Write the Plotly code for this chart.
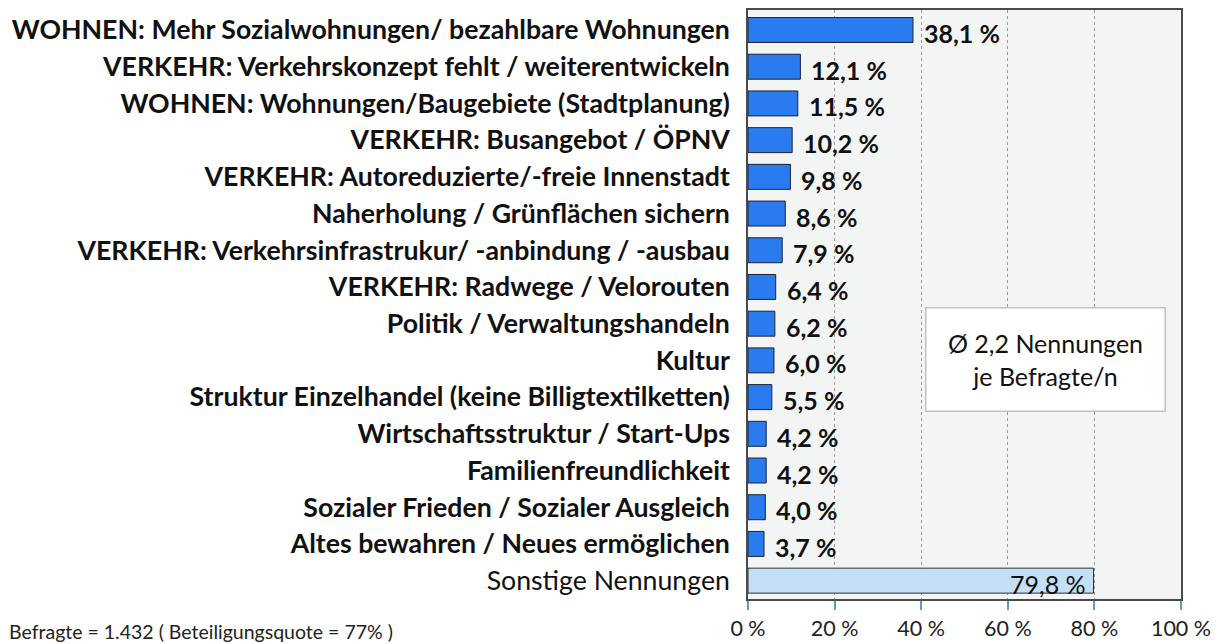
import plotly.graph_objects as go

categories = [
    'WOHNEN: Mehr Sozialwohnungen/ bezahlbare Wohnungen',
    'VERKEHR: Verkehrskonzept fehlt / weiterentwickeln',
    'WOHNEN: Wohnungen/Baugebiete (Stadtplanung)',
    'VERKEHR: Busangebot / ÖPNV',
    'VERKEHR: Autoreduzierte/-freie Innenstadt',
    'Naherholung / Grünflächen sichern',
    'VERKEHR: Verkehrsinfrastrukur/ -anbindung / -ausbau',
    'VERKEHR: Radwege / Velorouten',
    'Politik / Verwaltungshandeln',
    'Kultur',
    'Struktur Einzelhandel (keine Billigtextilketten)',
    'Wirtschaftsstruktur / Start-Ups',
    'Familienfreundlichkeit',
    'Sozialer Frieden / Sozialer Ausgleich',
    'Altes bewahren / Neues ermöglichen',
]
values = [38.1, 12.1, 11.5, 10.2, 9.8, 8.6, 7.9, 6.4, 6.2, 6.0, 5.5, 4.2, 4.2, 4.0, 3.7]

other_label = 'Sonstige Nennungen'
other_value = 79.8

x_ticks = [0, 20, 40, 60, 80, 100]
x_tick_labels = ['0 %', '20 %', '40 %', '60 %', '80 %', '100 %']

note_text = 'Ø 2,2 Nennungen<br>je Befragte/n'
footer_text = 'Befragte = 1.432 ( Beteiligungsquote = 77% )'

font_family = 'Lato'


def fmt(v):
    return f'{v:.1f}'.replace('.', ',') + ' %'


all_cats = categories + [other_label]
tick_text = ['<b>' + c + '</b>' for c in categories] + [other_label]

fig = go.Figure()

fig.add_trace(go.Bar(
    y=categories, x=values, orientation='h',
    marker=dict(color='#2b7bf0', line=dict(color='#1c2333', width=1)),
    width=0.68, hoverinfo='skip',
))

fig.add_trace(go.Bar(
    y=[other_label], x=[other_value], orientation='h',
    marker=dict(color='#c4e0f6', line=dict(color='#2a2f38', width=1)),
    width=0.68, hoverinfo='skip',
))

# value labels next to the blue bars
for c, v in zip(categories, values):
    fig.add_annotation(
        x=v, y=c, text='<b>' + fmt(v) + '</b>', showarrow=False,
        xanchor='left', xshift=9, yshift=-3,
        font=dict(family=font_family, size=25, color='#111'),
    )

# label inside the light "Sonstige" bar
fig.add_annotation(
    x=other_value, y=other_label, text=fmt(other_value), showarrow=False,
    xanchor='right', xshift=-6, yshift=-3,
    font=dict(family=font_family, size=25, color='#111'),
)

fig.add_annotation(
    x=0.687, y=0.406, xref='paper', yref='paper', text=note_text,
    xanchor='center', yanchor='middle',
    showarrow=False, align='center', width=236, height=100,
    bgcolor='white', bordercolor='#b8c4cc', borderwidth=1.5,
    font=dict(family=font_family, size=25, color='#111'),
)

fig.add_annotation(
    x=-1.712, y=-0.055, xref='paper', yref='paper', text=footer_text,
    showarrow=False, xanchor='left', yanchor='middle',
    font=dict(family=font_family, size=19.5, color='#222'),
)

fig.update_xaxes(
    range=[0, 100], tickvals=x_ticks, ticktext=x_tick_labels,
    showgrid=True, gridcolor='#9a9a9a', griddash='dot', gridwidth=1,
    ticks='outside', ticklen=9, tickcolor='#5b9bd5', tickwidth=1.5,
    showline=True, linecolor='#4a4a4a', linewidth=1.5, mirror=True,
    tickfont=dict(family=font_family, size=21.5, color='#222'),
    zeroline=False, fixedrange=True, automargin=False,
)
fig.update_yaxes(
    categoryorder='array', categoryarray=all_cats,
    tickvals=all_cats, ticktext=tick_text,
    autorange='reversed', ticklabelstandoff=11,
    showline=True, linecolor='#4a4a4a', linewidth=1.5, mirror=True,
    tickfont=dict(family=font_family, size=26.7, color='#111'),
    fixedrange=True, automargin=False,
)

# page body adds an 8px offset, so the figure is sized to fit the window
fig.update_layout(
    width=1211, height=636,
    margin=dict(l=740, r=38, t=2, b=45),
    plot_bgcolor='#f3f5f5', paper_bgcolor='white',
    showlegend=False, barmode='overlay',
    font=dict(family=font_family),
)

fig.write_html('out.html')
